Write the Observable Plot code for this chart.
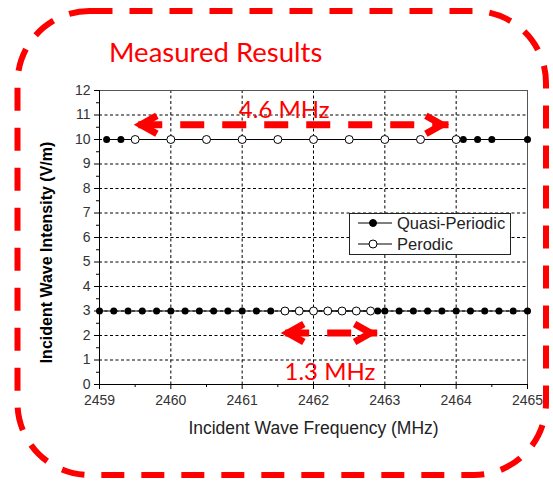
<!DOCTYPE html>
<html><head><meta charset="utf-8">
<script src="https://cdn.jsdelivr.net/npm/d3@7"></script>
<script src="https://cdn.jsdelivr.net/npm/@observablehq/plot@0.6"></script>
<style>
html,body{margin:0;padding:0;background:#fff;}
#wrap{position:relative;width:553px;height:487px;overflow:hidden;}
#wrap svg{position:absolute;left:0;top:0;}
</style></head><body><div id="wrap"></div>
<script>
// ---- data ----
const seriesNames = ["Quasi-Periodic", "Perodic"];
const highLevel = 10;
const lowLevel = 3;
const quasiHigh = [2459.1, 2459.3, 2464.1, 2464.3, 2464.5, 2465.0];
const periodicHigh = [2459.5, 2460.0, 2460.5, 2461.0, 2461.5, 2462.0, 2462.5, 2463.0, 2463.5, 2464.0];
const quasiLow = [2459.0, 2459.2, 2459.4, 2459.6, 2459.8, 2460.0, 2460.2, 2460.4, 2460.6, 2460.8, 2461.0, 2461.2, 2461.4,
                  2462.9, 2463.0, 2463.2, 2463.4, 2463.6, 2463.8, 2464.0, 2464.2, 2464.4, 2464.6, 2464.8, 2465.0];
const periodicLow = [2461.6, 2461.8, 2462.0, 2462.2, 2462.4, 2462.6, 2462.8];
const xMajor = [2459, 2460, 2461, 2462, 2463, 2464, 2465];
const xMinor = [2459.5, 2460.5, 2461.5, 2462.5, 2463.5, 2464.5];
const yMajor = [0, 1, 2, 3, 4, 5, 6, 7, 8, 9, 10, 11, 12];
const yMinor = [0.5, 1.5, 2.5, 3.5, 4.5, 5.5, 6.5, 7.5, 8.5, 9.5, 10.5, 11.5];
const arrowStart = [2459.48, 2461.54];
const arrowEnd = [2463.9, 2462.9];
const arrowLevel = [10.6, 2.1];
const arrowText = ["4.6 MHz", "1.3 MHz"];
const arrowTextX = [2461.59, 2462.23];
const arrowTextY = [11.2, 0.5];
const title = "Measured Results";
const xTitle = "Incident Wave Frequency (MHz)";
const yTitle = "Incident Wave Intensity (V/m)";

// ---- tables ----
const rows = [];
quasiHigh.forEach(x => rows.push({series: seriesNames[0], level: "high", x, y: highLevel}));
quasiLow.forEach(x => rows.push({series: seriesNames[0], level: "low", x, y: lowLevel}));
periodicHigh.forEach(x => rows.push({series: seriesNames[1], level: "high", x, y: highLevel}));
periodicLow.forEach(x => rows.push({series: seriesNames[1], level: "low", x, y: lowLevel}));
const arrows = arrowStart.map((x1, i) => ({x1, x2: arrowEnd[i], y: arrowLevel[i], text: arrowText[i], tx: arrowTextX[i], ty: arrowTextY[i]}));
const heads = arrows.flatMap(a => [{x: a.x1, y: a.y, r: 0}, {x: a.x2, y: a.y, r: 180}]);

// chevron symbol pointing left, outer tip at origin
const chevron = {
  draw(ctx) {
    const L = 16, H = 9, sw = 7;
    const m = (sw / 2) / Math.sin(Math.atan2(H, L));
    ctx.moveTo(m + L, -H);
    ctx.lineTo(m, 0);
    ctx.lineTo(m + L, H);
  }
};

const red = "#ff0000";
const plot = Plot.plot({
  width: 553, height: 487,
  marginTop: 90, marginBottom: 103, marginLeft: 99, marginRight: 26,
  x: {domain: [2459, 2465]},
  y: {domain: [0, 12]},
  style: {fontFamily: "'Liberation Sans', Arial, sans-serif", background: "transparent", overflow: "visible"},
  marks: [
    Plot.gridX({ticks: xMajor.slice(1, -1), stroke: "#000", strokeOpacity: 1, strokeDasharray: "3,2.5"}),
    Plot.gridY({ticks: yMajor.slice(1, -1), stroke: "#000", strokeOpacity: 1, strokeDasharray: "3,2.5"}),
    Plot.frame({stroke: "#555"}),
    Plot.axisX({ticks: xMinor, tickSize: 3, text: null, stroke: "#000"}),
    Plot.axisX({ticks: xMajor, tickSize: 5, tickPadding: 6, tickFormat: d => String(d), fontSize: 14, fill: "#333", stroke: "#000", label: null}),
    Plot.axisY({ticks: yMinor, tickSize: 3, text: null, stroke: "#000"}),
    Plot.axisY({ticks: yMajor, tickSize: 5, tickPadding: 4, tickFormat: d => String(d), fontSize: 14, fill: "#333", stroke: "#000", label: null}),
    Plot.ruleY([0], {stroke: "#000"}),
    Plot.ruleX([2459], {stroke: "#000"}),
    Plot.line(rows, {x: "x", y: "y", z: d => d.series + d.level, stroke: "#000", strokeWidth: 1}),
    Plot.dot(rows.filter(d => d.series === seriesNames[0]), {x: "x", y: "y", r: 3.5, fill: "#000", stroke: "none"}),
    Plot.dot(rows.filter(d => d.series === seriesNames[1]), {x: "x", y: "y", r: 4, fill: "#fff", stroke: "#000", strokeWidth: 1}),
    Plot.ruleY(arrows, {x1: "x1", x2: "x2", y: "y", stroke: red, strokeWidth: 7, strokeDasharray: "24 18", strokeDashoffset: -5}),
    Plot.dot(heads, {x: "x", y: "y", rotate: "r", symbol: chevron, fill: "none", stroke: red, strokeWidth: 7, strokeLinejoin: "miter", strokeLinecap: "butt"}),
    Plot.text(arrows, {x: "tx", y: "ty", text: "text", fill: red, fontSize: 24, fontFamily: "Lato, 'Open Sans', sans-serif", textAnchor: "middle", lineAnchor: "middle"}),
    Plot.text([xTitle], {text: d => d, frameAnchor: "bottom", dy: 44, textAnchor: "middle", lineAnchor: "middle", fontSize: 17.5, fill: "#222", letterSpacing: "0.8px"}),
    Plot.text([yTitle], {text: d => d, frameAnchor: "left", dx: -53, dy: 15, rotate: -90, textAnchor: "middle", lineAnchor: "middle", fontSize: 16, fontWeight: "bold", fill: "#000"})
  ]
});
document.getElementById("wrap").appendChild(plot);

// ---- overlay: rounded border, title, legend ----
const ov = d3.select("#wrap").append("svg").attr("width", 553).attr("height", 487)
  .style("font-family", "'Liberation Sans', Arial, sans-serif");
ov.append("rect").attr("x", 17.5).attr("y", 11).attr("width", 528.5).attr("height", 464).attr("rx", 72)
  .attr("fill", "none").attr("stroke", red).attr("stroke-width", 6).attr("stroke-dasharray", "23 17");
ov.append("text").attr("x", 109).attr("y", 62).text(title)
  .attr("fill", red).attr("font-size", 27.5).attr("font-family", "Lato, 'Open Sans', sans-serif");
const lg = ov.append("g");
lg.append("rect").attr("x", 349.5).attr("y", 213.5).attr("width", 161).attr("height", 41)
  .attr("fill", "#fff").attr("stroke", "#222");
[[223, true], [244, false]].forEach(([yy, filled], i) => {
  lg.append("line").attr("x1", 358).attr("x2", 392).attr("y1", yy).attr("y2", yy).attr("stroke", "#000");
  lg.append("circle").attr("cx", 373).attr("cy", yy).attr("r", filled ? 3.5 : 4)
    .attr("fill", filled ? "#000" : "#fff").attr("stroke", "#000");
  lg.append("text").attr("x", 397).attr("y", yy).attr("dy", "0.35em").text(seriesNames[i])
    .attr("font-size", 16.5).attr("fill", "#222");
});
</script></body></html>
